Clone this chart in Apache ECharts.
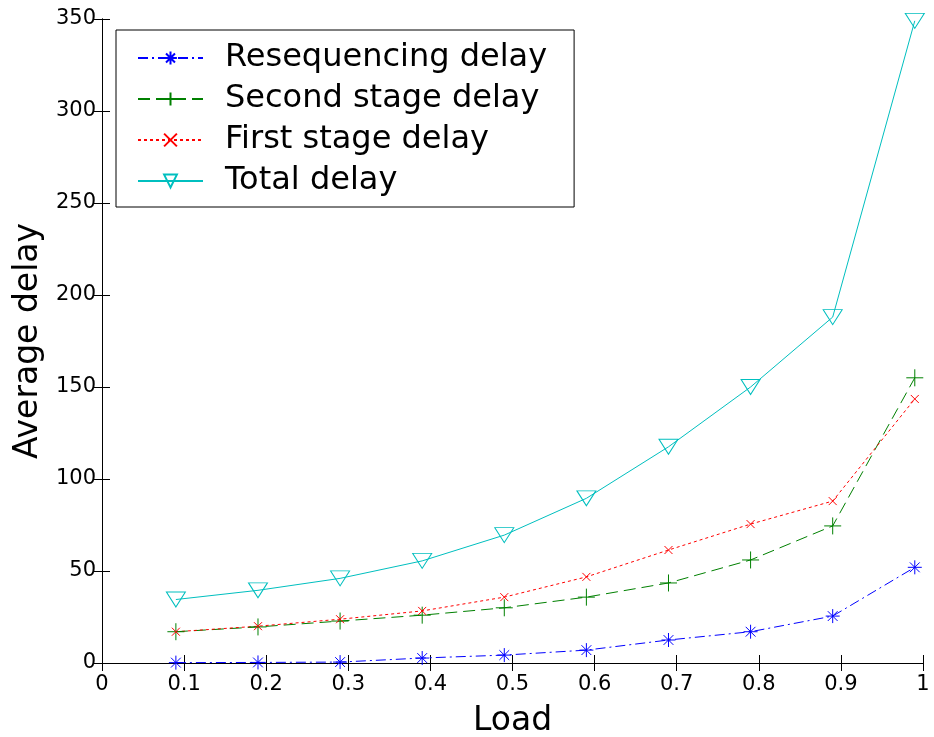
<!DOCTYPE html>
<html>
<head>
<meta charset="utf-8">
<script src="https://cdn.jsdelivr.net/npm/echarts@6/dist/echarts.min.js"></script>
<style>
  html, body { margin: 0; padding: 0; background: #fff; }
  #chart { width: 934px; height: 737px; }
</style>
</head>
<body>
<div id="chart"></div>
<script>
// Load points where each delay was measured
const loads = [0.09, 0.19, 0.29, 0.39, 0.49, 0.59, 0.69, 0.79, 0.89, 0.99];

// Delay components per load
const resequencingDelay = [0.2, 0.3, 0.5, 2.7, 4.3, 7, 12.5, 17, 25.5, 52];
const secondStageDelay  = [17, 19.6, 22.8, 26, 30, 35.8, 43.5, 56, 74.5, 155];
const firstStageDelay   = [17, 20, 23.8, 28.3, 35.8, 46.8, 61.4, 75.5, 88, 143.5];
const totalDelay        = [34.5, 39.5, 46, 55.5, 69.5, 89.5, 117.5, 150, 188, 349];

const seriesNames = ['Resequencing delay', 'Second stage delay', 'First stage delay', 'Total delay'];

const FONT = '"DejaVu Sans", "Liberation Sans", Arial, sans-serif';

// Stroked marker outlines (asterisk, plus, cross)
const SYM_STAR  = 'path://M0,-1L0,1M-1,0L1,0M-0.7,-0.7L0.7,0.7M-0.7,0.7L0.7,-0.7';
const SYM_PLUS  = 'path://M0,-1L0,1M-1,0L1,0';
const SYM_CROSS = 'path://M-1,-1L1,1M-1,1L1,-1';

function pairs(ys) { return loads.map((x, i) => [x, ys[i]]); }

function lineSeries(name, ys, color, dash, symbol, size, rotate) {
  return {
    name: name,
    type: 'line',
    data: pairs(ys),
    symbol: symbol,
    symbolSize: size,
    symbolRotate: rotate || 0,
    showAllSymbol: true,
    symbolKeepAspect: false,
    lineStyle: { color: color, width: 1, type: dash },
    itemStyle: { color: 'rgba(0,0,0,0)', borderColor: color, borderWidth: 1 },
    emphasis: { disabled: true },
    animation: false,
    z: 3
  };
}

const chart = echarts.init(document.getElementById('chart'), null, { renderer: 'canvas' });

const axisLine = { show: true, lineStyle: { color: '#000', width: 1 } };
const tick = { inside: true, length: 8, lineStyle: { color: '#000' } };

chart.setOption({
  backgroundColor: '#fff',
  animation: false,
  grid: { left: 102, right: 11, top: 19, bottom: 74, containLabel: false, outerBoundsMode: 'none' },
  legend: {
    orient: 'vertical',
    left: 116,
    top: 30,
    data: seriesNames,
    backgroundColor: '#fff',
    borderColor: '#000',
    borderWidth: 1,
    padding: [12, 27, 10, 21],
    itemWidth: 65,
    itemHeight: 16,
    itemGap: 9,
    selectedMode: false,
    textStyle: { fontFamily: FONT, fontSize: 32, color: '#000', padding: [0, 0, 0, 17] }
  },
  xAxis: [
    {
      type: 'value', min: 0, max: 1, interval: 0.1,
      name: 'Load', nameLocation: 'middle', nameGap: 42,
      nameTextStyle: { fontFamily: FONT, fontSize: 33, color: '#000' },
      axisLine: axisLine,
      axisTick: tick,
      axisLabel: { fontFamily: FONT, fontSize: 21, color: '#000', margin: 11 },
      splitLine: { show: false }
    },
    {
      type: 'value', min: 0, max: 1, interval: 0.1, position: 'top',
      axisLine: axisLine,
      axisTick: tick,
      axisLabel: { show: false },
      splitLine: { show: false }
    }
  ],
  yAxis: [
    {
      type: 'value', min: 0, max: 350, interval: 50,
      name: 'Average delay', nameLocation: 'middle', nameGap: 50, nameRotate: 90,
      nameTextStyle: { fontFamily: FONT, fontSize: 33, color: '#000' },
      axisLine: axisLine,
      axisTick: tick,
      axisLabel: { fontFamily: FONT, fontSize: 21, color: '#000', margin: 6 },
      splitLine: { show: false }
    },
    {
      type: 'value', min: 0, max: 350, interval: 50, position: 'right',
      axisLine: axisLine,
      axisTick: tick,
      axisLabel: { show: false },
      splitLine: { show: false }
    }
  ],
  series: [
    lineSeries(seriesNames[0], resequencingDelay, '#0000ff', [10, 4, 2, 4], SYM_STAR, 14),
    lineSeries(seriesNames[1], secondStageDelay, '#008000', [12, 6], SYM_PLUS, 17),
    lineSeries(seriesNames[2], firstStageDelay, '#ff0000', [3, 3], SYM_CROSS, 8),
    lineSeries(seriesNames[3], totalDelay, '#00bfbf', 'solid', 'triangle', [19, 15], 180)
  ]
});
</script>
</body>
</html>
